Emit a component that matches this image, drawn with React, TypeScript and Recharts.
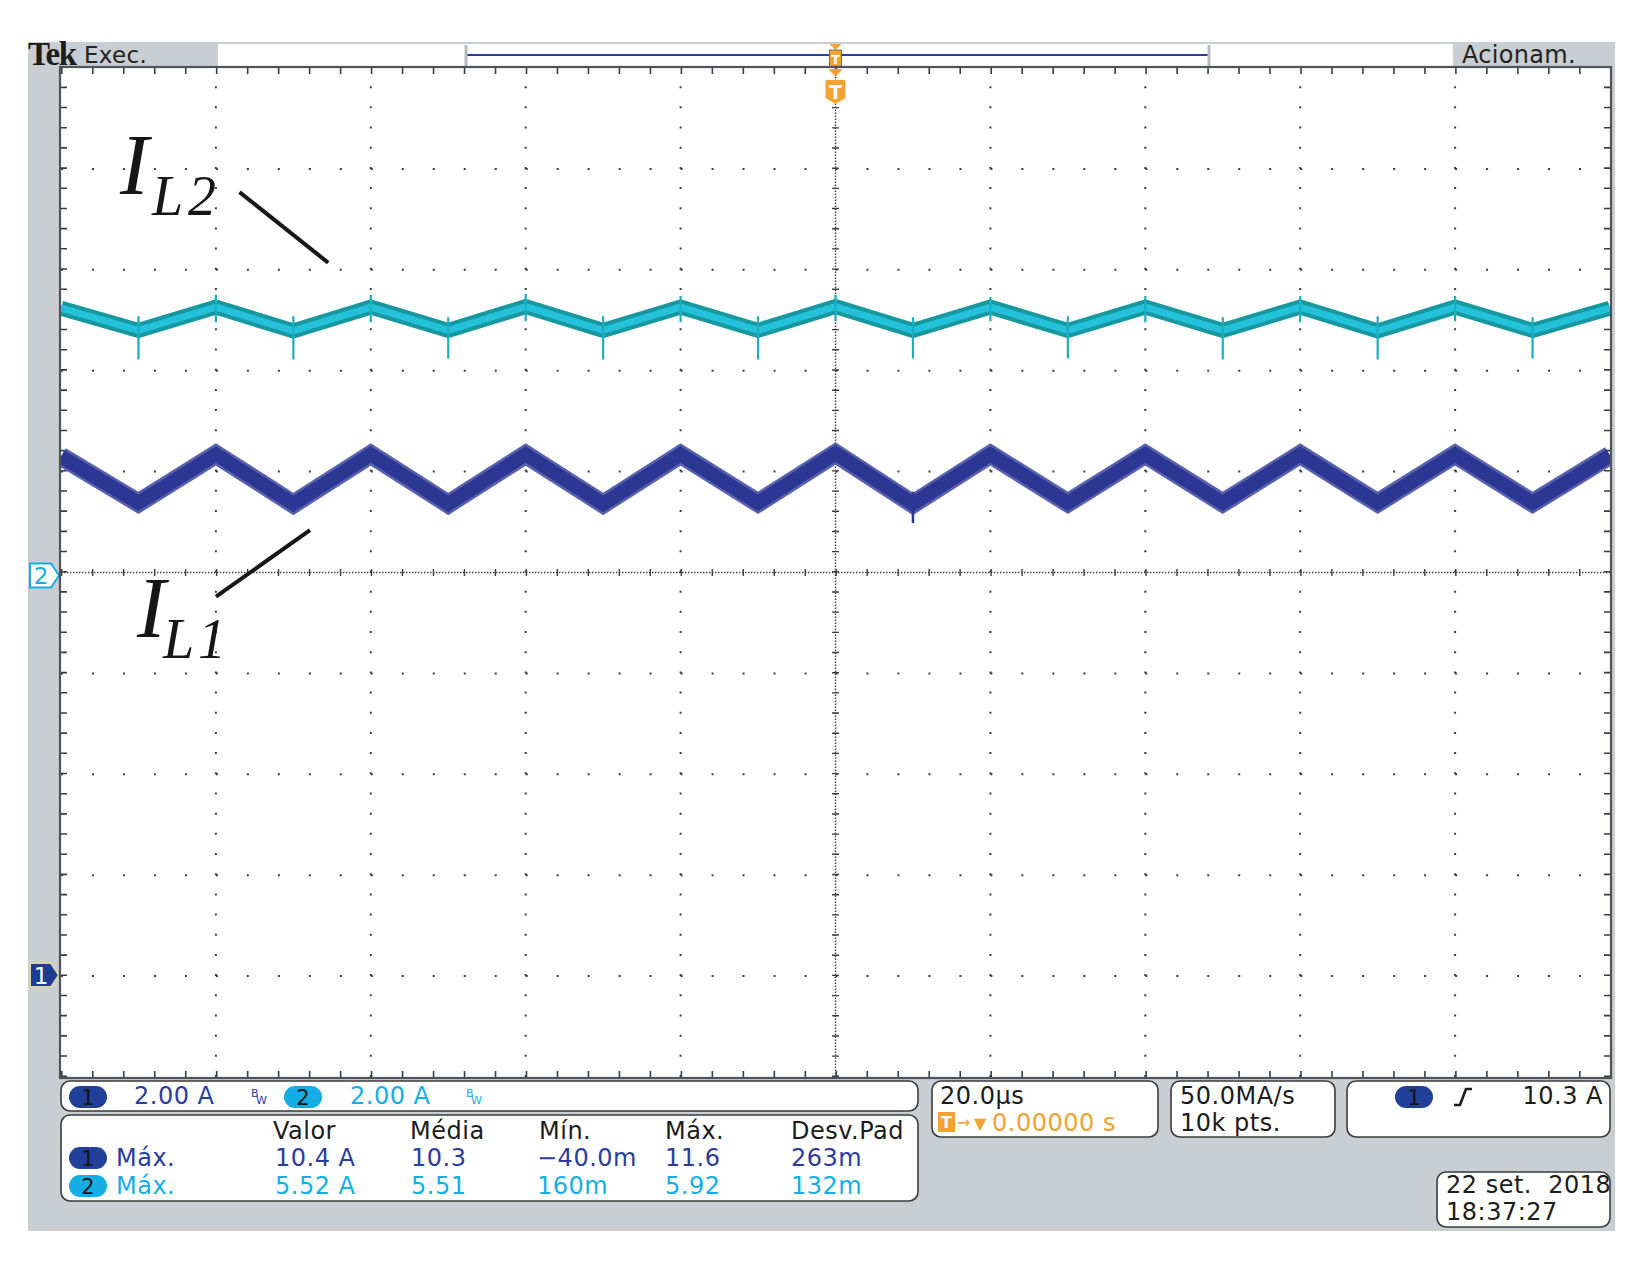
import React from 'react';
import { LineChart, Line, XAxis, YAxis, ReferenceLine, ReferenceDot } from 'recharts';

// time axis in µs (20 µs/div, trigger at 0 = centre of screen)
const vertexTimes = [-100, -90, -80, -70, -60, -50, -40, -30, -20, -10, 0, 10, 20, 30, 40, 50, 60, 70, 80, 90, 100];

// channel 1 (I_L1), amperes at the ripple peaks / valleys
const ch1Amps = [10.30, 9.38, 10.34, 9.36, 10.34, 9.36, 10.34, 9.36, 10.34, 9.38, 10.36, 9.36, 10.34, 9.38, 10.34, 9.38, 10.34, 9.38, 10.34, 9.38, 10.32];
// channel 2 (I_L2), amperes
const ch2Amps = [5.24, 4.80, 5.26, 4.79, 5.26, 4.80, 5.27, 4.80, 5.26, 4.80, 5.27, 4.80, 5.26, 4.80, 5.26, 4.80, 5.26, 4.79, 5.26, 4.80, 5.24];

// switching spikes
const ch2ValleySpikeTimes = [-90, -70, -50, -30, -10, 10, 30, 50, 70, 90];
const ch2ValleySpikeLow = [4.22, 4.22, 4.24, 4.22, 4.22, 4.24, 4.24, 4.22, 4.22, 4.24];
const ch2ValleySpikeHigh = [5.08, 5.08, 5.06, 5.08, 5.08, 5.06, 5.08, 5.06, 5.08, 5.06];
const ch2PeakSpikeTimes = [-80, -60, -40, -20, 0, 20, 40, 60, 80];
const ch2PeakSpikeHigh = [5.50, 5.50, 5.52, 5.48, 5.50, 5.46, 5.48, 5.48, 5.48];
const ch2PeakSpikeLow = [4.96, 4.96, 4.98, 4.96, 4.98, 4.98, 4.96, 4.96, 4.98];
const ch1SpikeTimes = [10];
const ch1SpikeLow = [8.98];
const ch1SpikeHigh = [9.6];

// vertical settings: 2 A/div, ground reference in divisions from screen centre
const ampsPerDiv = 2;
const ch1Ground = -4;
const ch2Ground = 0;

const xMajor = [-80, -60, -40, -20, 20, 40, 60, 80];
const yMajor = [-4, -3, -2, -1, 1, 2, 3, 4];

// readouts
const statHeaders = ['Valor', 'Média', 'Mín.', 'Máx.', 'Desv.Pad'];
const ch1Stats = ['10.4 A', '10.3', '−40.0m', '11.6', '263m'];
const ch2Stats = ['5.52 A', '5.51', '160m', '5.92', '132m'];
const statCols = [275, 411, 537, 665, 791];
const headerCols = [273, 410, 539, 665, 791];

const W = 1647, H = 1267;
const PL = 61, PT = 68, PW = 1549, PH = 1009;
const minorX = PW / 50, minorY = PH / 50;

const GRAY = '#c9ced3';
const GRID = '#3a3d40';
const CH1 = '#2a3d9c';
const CH2 = '#14aee5';
const ORANGE = '#f2a233';
const FONT = '"DejaVu Sans", Verdana, sans-serif';
const SERIF = '"Liberation Serif", "Times New Roman", serif';

const toDiv = (a: number, g: number) => g + a / ampsPerDiv;
const ch1Data = vertexTimes.map((t, i) => ({ t, v: toDiv(ch1Amps[i], ch1Ground) }));
const ch2Data = vertexTimes.map((t, i) => ({ t, v: toDiv(ch2Amps[i], ch2Ground) }));
const spikes = (times: number[], lo: number[], hi: number[], g: number) =>
  times.flatMap((t, i) => [{ t, v: toDiv(lo[i], g) }, { t, v: toDiv(hi[i], g) }, { t, v: null }]);
const ch2Spikes = [
  ...spikes(ch2ValleySpikeTimes, ch2ValleySpikeLow, ch2ValleySpikeHigh, ch2Ground),
  ...spikes(ch2PeakSpikeTimes, ch2PeakSpikeLow, ch2PeakSpikeHigh, ch2Ground),
];
const ch1Spikes = spikes(ch1SpikeTimes, ch1SpikeLow, ch1SpikeHigh, ch1Ground);

const ChannelFlag = ({ cx, cy, dy, fill, stroke, textFill, label }: any) => {
  const x0 = cx - 31, c = cy + dy;
  return (
    <g>
      <path d={`M${x0},${c - 12} H${x0 + 21} L${x0 + 29},${c} L${x0 + 21},${c + 12} H${x0} Z`}
        fill={fill} stroke={stroke} strokeWidth={2} />
      <text x={x0 + 11} y={c + 8.5} textAnchor="middle" fontFamily={FONT} fontSize={23} fill={textFill}>{label}</text>
    </g>
  );
};

const TriggerMark = ({ cx, cy }: any) => (
  <g>
    <path d={`M${cx - 6},${cy - 24} L${cx + 6},${cy - 24} L${cx},${cy - 18} Z`} fill={ORANGE} />
    <rect x={cx - 6} y={cy - 18} width={12} height={17} fill={ORANGE} stroke="#555" strokeWidth={0.8} />
    <text x={cx} y={cy - 4} textAnchor="middle" fontFamily={FONT} fontWeight="bold" fontSize={13} fill="#fff">T</text>
    <path d={`M${cx - 7},${cy + 1} L${cx + 7},${cy + 1} L${cx},${cy + 9} Z`} fill={ORANGE} />
    <path d={`M${cx - 10},${cy + 13} Q${cx - 10},${cy + 12} ${cx - 8},${cy + 12} H${cx + 8} Q${cx + 10},${cy + 12} ${cx + 10},${cy + 14} V${cy + 30} L${cx},${cy + 36} L${cx - 10},${cy + 30} Z`} fill={ORANGE} />
    <text x={cx} y={cy + 31} textAnchor="middle" fontFamily={FONT} fontWeight="bold" fontSize={19} fill="#fff">T</text>
  </g>
);

const Pill = ({ cx, cy, fill, label }: any) => (
  <g>
    <rect x={cx - 19} y={cy - 11} width={38} height={22} rx={11} fill={fill} />
    <text x={cx} y={cy + 8} textAnchor="middle" fontSize={21} fill="#151515" letterSpacing={0}>{label}</text>
  </g>
);

const Bw = ({ x, y, color }: any) => (
  <g fill={color} fontSize={11} letterSpacing={0}>
    <text x={x} y={y - 7}>B</text>
    <text x={x + 5} y={y}>W</text>
  </g>
);

const Box = ({ x, y, w, h }: any) => (
  <rect x={x} y={y} width={w} height={h} rx={9} fill="#fff" stroke="#3a3a3a" strokeWidth={1.6} />
);

const ScopeCapture: React.FC = () => {
  const edgeX = (3 * 200) / PW;
  const edgeY = (3 * 10) / PH;
  return (
    <div style={{ position: 'absolute', left: 0, top: 0, width: W, height: H, background: '#fff' }}>
      <svg width={W} height={H} style={{ position: 'absolute', left: 0, top: 0 }}>
        <rect x={28} y={42} width={1587} height={1189} fill={GRAY} />
        <rect x={218} y={44} width={1235} height={24} fill="#fff" />
        <rect x={PL} y={PT} width={PW} height={PH} fill="#fff" />
        <line x1={466} y1={55} x2={1209} y2={55} stroke={CH1} strokeWidth={2} />
        <line x1={466} y1={45} x2={466} y2={67} stroke="#b7bdc3" strokeWidth={3} />
        <line x1={1209} y1={45} x2={1209} y2={67} stroke="#b7bdc3" strokeWidth={3} />
      </svg>

      <div style={{ position: 'absolute', left: 0, top: 0 }}>
        <LineChart width={W} height={H} margin={{ top: PT, left: PL, right: W - PL - PW, bottom: H - PT - PH }}>
          <XAxis type="number" dataKey="t" domain={[-100, 100]} allowDataOverflow hide />
          <YAxis type="number" domain={[-5, 5]} allowDataOverflow hide />

          {xMajor.map((t) => (
            <ReferenceLine key={'gx' + t} x={t} stroke={GRID} strokeWidth={2} strokeDasharray={`2 ${minorY - 2}`} />
          ))}
          {yMajor.map((d) => (
            <ReferenceLine key={'gy' + d} y={d} stroke={GRID} strokeWidth={2} strokeDasharray={`2 ${minorX - 2}`} />
          ))}
          <ReferenceLine x={0} stroke={GRID} strokeWidth={1.4} strokeDasharray="1.4 1.6" />
          <ReferenceLine x={0} stroke={GRID} strokeWidth={7} strokeDasharray={`1.4 ${minorY - 1.4}`} />
          <ReferenceLine y={0} stroke={GRID} strokeWidth={1.4} strokeDasharray="1.4 1.6" />
          <ReferenceLine y={0} stroke={GRID} strokeWidth={7} strokeDasharray={`1.4 ${minorX - 1.4}`} />
          <ReferenceLine x={-100 + edgeX} stroke={GRID} strokeWidth={6} strokeDasharray={`1.6 ${minorY - 1.6}`} />
          <ReferenceLine x={100 - edgeX} stroke={GRID} strokeWidth={6} strokeDasharray={`1.6 ${minorY - 1.6}`} />
          <ReferenceLine y={5 - edgeY} stroke={GRID} strokeWidth={6} strokeDasharray={`1.6 ${minorX - 1.6}`} />
          <ReferenceLine y={-5 + edgeY} stroke={GRID} strokeWidth={6} strokeDasharray={`1.6 ${minorX - 1.6}`} />

          <Line data={ch2Data} dataKey="v" type="linear" stroke="#17979f" strokeWidth={15} dot={false} isAnimationActive={false} />
          <Line data={ch2Data} dataKey="v" type="linear" stroke="#24c2da" strokeWidth={7} dot={false} isAnimationActive={false} />
          <Line data={ch2Spikes} dataKey="v" type="linear" stroke="#1aaec2" strokeWidth={2.2} dot={false} isAnimationActive={false} />
          <Line data={ch1Data} dataKey="v" type="linear" stroke="#5961ad" strokeWidth={19} dot={false} isAnimationActive={false} />
          <Line data={ch1Data} dataKey="v" type="linear" stroke="#2b3792" strokeWidth={14} dot={false} isAnimationActive={false} />
          <Line data={ch1Spikes} dataKey="v" type="linear" stroke="#2b3792" strokeWidth={2.5} dot={false} isAnimationActive={false} />

          <ReferenceLine segment={[{ x: -76.95, y: 3.77 }, { x: -65.5, y: 3.07 }]} stroke="#161616" strokeWidth={4} />
          <ReferenceLine segment={[{ x: -79.99, y: -0.24 }, { x: -67.85, y: 0.42 }]} stroke="#161616" strokeWidth={4} />

          <ReferenceDot x={-100} y={ch2Ground}
            shape={(p: any) => <ChannelFlag cx={p.cx} cy={p.cy} dy={3} fill="#fff" stroke={CH2} textFill={CH2} label="2" />} />
          <ReferenceDot x={-100} y={ch1Ground}
            shape={(p: any) => <ChannelFlag cx={p.cx} cy={p.cy} dy={-1} fill="#1f3a93" stroke="#d9d3a6" textFill="#fff" label="1" />} />
          <ReferenceDot x={0} y={5} shape={(p: any) => <TriggerMark cx={p.cx} cy={p.cy} />} />
        </LineChart>
      </div>

      <svg width={W} height={H} style={{ position: 'absolute', left: 0, top: 0, pointerEvents: 'none' }} fontFamily={FONT}>
        <rect x={PL - 1} y={PT - 1} width={PW + 2} height={PH + 2} fill="none" stroke="#4f5459" strokeWidth={2.2} />

        <text x={28} y={65} fontFamily={SERIF} fontWeight="bold" fontSize={33} letterSpacing={-1.5} fill="#1c1c1c">Tek</text>
        <text x={84} y={63} fontSize={23} letterSpacing={0.3} fill="#222">Exec.</text>
        <text x={1462} y={63} fontSize={24} letterSpacing={0.3} fill="#222">Acionam.</text>

        <g fontFamily={SERIF} fontStyle="italic" fill="#161616">
          <text x={120} y={194} fontSize={86}>I</text>
          <text x={152} y={215} fontSize={56}>L</text>
          <text x={188} y={215} fontSize={56}>2</text>
          <text x={137} y={637} fontSize={86}>I</text>
          <text x={163} y={658} fontSize={56}>L</text>
          <text x={198} y={658} fontSize={56}>1</text>
        </g>

        <Box x={61} y={1081} w={857} h={30} />
        <Box x={61} y={1115} w={857} h={86} />
        <Box x={932} y={1081} w={226} h={56} />
        <Box x={1171} y={1081} w={164} h={56} />
        <Box x={1347} y={1081} w={263} h={56} />
        <Box x={1437} y={1172} w={173} h={55} />

        <g fontSize={24} letterSpacing={0.5}>
          <Pill cx={88} cy={1097} fill="#22409a" label="1" />
          <text x={134} y={1104} fill={CH1}>2.00 A</text>
          <Bw x={251} y={1104} color={CH1} />
          <Pill cx={303} cy={1097} fill={CH2} label="2" />
          <text x={350} y={1104} fill={CH2}>2.00 A</text>
          <Bw x={466} y={1104} color={CH2} />

          {statHeaders.map((h, i) => (
            <text key={h} x={headerCols[i]} y={1139} fill="#1c1c1c">{h}</text>
          ))}
          <Pill cx={88} cy={1158} fill="#22409a" label="1" />
          <text x={116} y={1166} fill={CH1}>Máx.</text>
          {ch1Stats.map((s, i) => (
            <text key={'a' + i} x={statCols[i]} y={1166} fill={CH1}>{s}</text>
          ))}
          <Pill cx={88} cy={1186} fill={CH2} label="2" />
          <text x={116} y={1194} fill={CH2}>Máx.</text>
          {ch2Stats.map((s, i) => (
            <text key={'b' + i} x={statCols[i]} y={1194} fill={CH2}>{s}</text>
          ))}

          <text x={940} y={1104} fill="#1c1c1c">20.0µs</text>
          <rect x={938} y={1112} width={17} height={20} fill={ORANGE} />
          <text x={946.5} y={1128} textAnchor="middle" fontSize={16} fontWeight="bold" fill="#fff">T</text>
          <text x={957} y={1128} fontSize={16} fill={ORANGE}>→</text>
          <text x={974} y={1129} fontSize={16} fill={ORANGE}>▼</text>
          <text x={992} y={1131} fill={ORANGE}>0.00000 s</text>

          <text x={1180} y={1104} fill="#1c1c1c">50.0MA/s</text>
          <text x={1180} y={1131} fill="#1c1c1c">10k pts.</text>

          <Pill cx={1414} cy={1097} fill="#22409a" label="1" />
          <path d="M1454,1105 L1460,1105 L1466,1089 L1472,1089" fill="none" stroke="#1c1c1c" strokeWidth={2.6} />
          <text x={1603} y={1104} textAnchor="end" fill="#1c1c1c">10.3 A</text>

          <text x={1446} y={1193} fill="#1c1c1c" style={{ whiteSpace: 'pre' }}>{'22 set.  2018'}</text>
          <text x={1446} y={1220} fill="#1c1c1c">18:37:27</text>
        </g>
      </svg>
    </div>
  );
};

export default function App() {
  return <ScopeCapture />;
}
